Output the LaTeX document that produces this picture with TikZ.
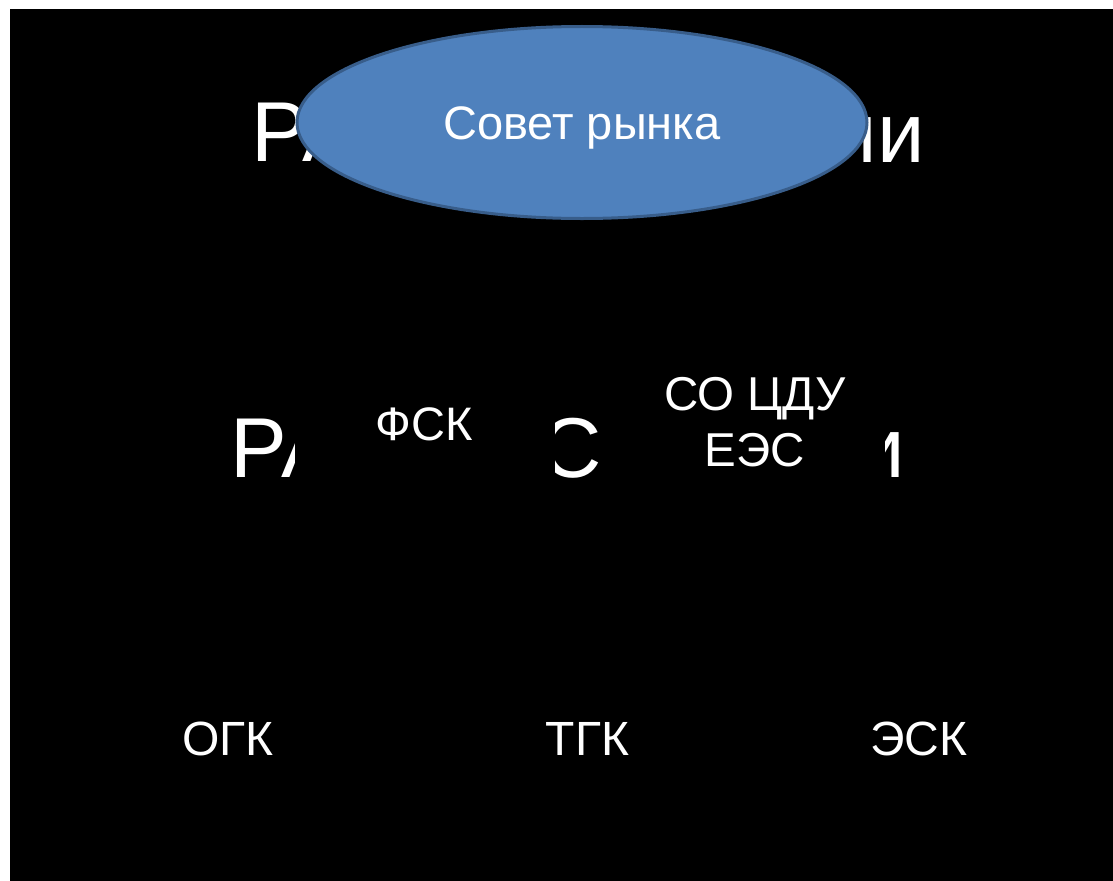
\documentclass[tikz,border=0pt]{standalone}
\usepackage{fontspec}
\setmainfont{Liberation Sans}
\usetikzlibrary{shapes.geometric}
\definecolor{mblue}{HTML}{4F81BD}
\definecolor{mborder}{HTML}{385D8A}
\tikzset{
  bigtitle/.style={text=white, inner sep=0pt, font=\fontsize{85bp}{100bp}\selectfont},
  orgbox/.style={fill=black, text=white, inner sep=0pt, minimum width=260bp, minimum height=130bp, align=center},
  leaf/.style={text=white, inner sep=0pt, font=\fontsize{48bp}{56bp}\selectfont},
  council/.style={ellipse, fill=mblue, draw=mborder, line width=3bp, minimum width=570bp, minimum height=192bp, inner sep=0pt, text=white, font=\fontsize{47bp}{56bp}\selectfont, text height=34bp, text depth=0pt}
}
\begin{document}
\begin{tikzpicture}[x=1bp,y=-1bp]
\useasboundingbox (0,0) rectangle (1113,881);
\fill[white] (-5,-5) rectangle (1120,890);
\fill[black] (10,9) rectangle (1120,890);
% title fragments (partly hidden)
\node[bigtitle, anchor=base west] (t1a) at (251,161) {РА};
\node[bigtitle, anchor=base east] (t1b) at (925,162) {ии};
\node[bigtitle, anchor=base west] (t2a) at (230,477) {РА};
\node[bigtitle, anchor=base east] (t2b) at (602,477) {С};
\node[bigtitle, anchor=base east] (t2c) at (905,477) {и};
% boxes
\node[orgbox, font=\fontsize{47bp}{56bp}\selectfont, anchor=base] (fsk) at (424.5,440) {ФСК};
\node[orgbox, font=\fontsize{47.5bp}{56bp}\selectfont] (so) at (755,422.5) {СО ЦДУ\\ЕЭС};
\node[leaf, anchor=base] (ogk) at (228,755) {ОГК};
\node[leaf, anchor=base] (tgk) at (587.5,755) {ТГК};
\node[leaf, anchor=base] (esk) at (919,755) {ЭСК};
% council
\node[council] (sovet) at (582,122.5) {Совет рынка};
\end{tikzpicture}
\end{document}
